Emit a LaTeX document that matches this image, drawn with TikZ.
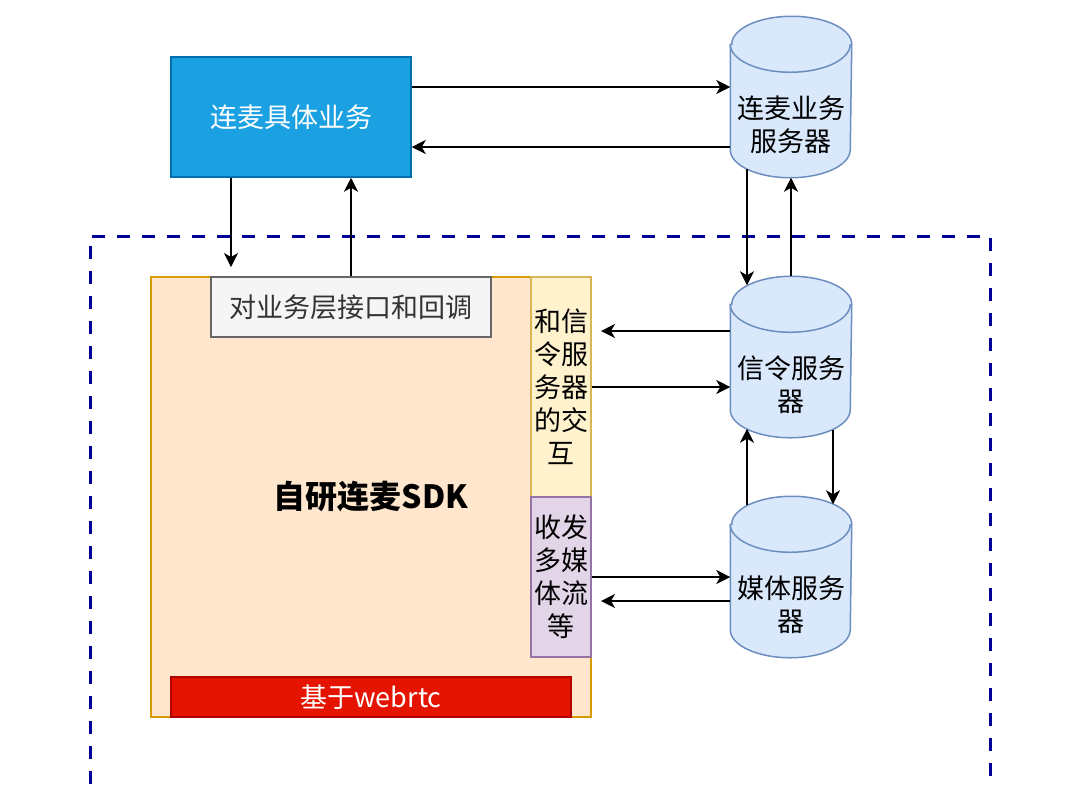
\documentclass[tikz,border=0pt]{standalone}
\usepackage{fontspec}
\setmainfont{Noto Sans CJK SC}
\usetikzlibrary{arrows.meta,positioning,calc,backgrounds}
\definecolor{bizblue}{HTML}{1BA1E2}
\definecolor{bizline}{HTML}{006EAF}
\definecolor{cylfill}{HTML}{DAE8FC}
\definecolor{cylline}{HTML}{6C8EBF}
\definecolor{sdkfill}{HTML}{FFE6CC}
\definecolor{sdkline}{HTML}{D79B00}
\definecolor{apifill}{HTML}{F5F5F5}
\definecolor{apiline}{HTML}{666666}
\definecolor{apitext}{HTML}{333333}
\definecolor{sigfill}{HTML}{FFF2CC}
\definecolor{sigline}{HTML}{D6B656}
\definecolor{mediafill}{HTML}{E1D5E7}
\definecolor{medialine}{HTML}{9673A6}
\definecolor{rtcfill}{HTML}{E51400}
\definecolor{rtcline}{HTML}{B20000}
\definecolor{edgeblue}{HTML}{000099}

\begin{document}
\begin{tikzpicture}[x=0.5pt, y=-0.5pt,
    box/.style={draw, line width=0.75pt, inner sep=0pt, align=center, font=\fontsize{13.5}{16.5}\selectfont},
    dbcyl/.style={box, draw=none, minimum width=60pt, minimum height=52pt},
    conn/.style={-{Stealth[length=7pt, width=7pt, inset=2pt]}, line width=0.7pt}
]
    \useasboundingbox (0,0) rectangle (1088,784);

    % dashed frame around the SDK side
    \draw[edgeblue, line width=1.5pt, dash pattern=on 6.5pt off 6pt] (90,784) -- (90,236) -- (990,236) -- (990,784);

    \node[box, fill=bizblue, draw=bizline, text=white, minimum width=120pt, minimum height=60pt] (biz) at (291,117) {连麦具体业务};

    \node[box, fill=sdkfill, draw=sdkline, minimum width=220pt, minimum height=220pt, font=\fontsize{16}{19}\selectfont\bfseries] (sdk) at (371,497) {自研连麦SDK};
    \node[box, fill=apifill, draw=apiline, text=apitext, minimum width=140pt, minimum height=30pt] (api) at (351,307) {对业务层接口和回调};
    \node[box, fill=sigfill, draw=sigline, minimum width=30pt, minimum height=110pt] (sig) at (561,387) {和信\\令服\\务器\\的交\\互};
    \node[box, fill=mediafill, draw=medialine, minimum width=30pt, minimum height=80pt] (media) at (561,577) {收发\\多媒\\体流\\等};
    \node[box, fill=rtcfill, draw=rtcline, text=white, minimum width=200pt, minimum height=20pt] (rtc) at (371,697) {基于webrtc};

    \node[dbcyl] (cyl1) at (791,125) {连麦业务\\服务器};
    \node[dbcyl] (cyl2) at (791,385) {信令服务\\器};
    \node[dbcyl] (cyl3) at (791,605) {媒体服务\\器};

    \begin{scope}[on background layer]
        \foreach \c in {cyl1,cyl2,cyl3}{
            \filldraw[fill=cylfill, draw=cylline, line width=0.75pt]
                ([yshift=14pt]\c.north west) -- ([yshift=14pt]\c.south west)
                arc[start angle=180, end angle=360, x radius=30pt, y radius=14pt]
                -- ([yshift=14pt]\c.north east)
                arc[start angle=0, end angle=180, x radius=30pt, y radius=14pt] -- cycle;
            \draw[cylline, line width=0.75pt] ([yshift=14pt]\c.north west)
                arc[start angle=180, end angle=360, x radius=30pt, y radius=14pt];
        }
    \end{scope}

    \coordinate (sdkin) at (231,267);
    \coordinate (sigin) at (601,331);
    \coordinate (mediain) at (601,601);

    \draw[conn] ([yshift=15pt]biz.east) -- ([yshift=15pt]biz.east -| cyl1.west);
    \draw[conn] ([yshift=-15pt]biz.east -| cyl1.west) -- ([yshift=-15pt]biz.east);
    \draw[conn] (biz.south -| sdkin) -- (sdkin);
    \draw[conn] (api.north) -- (api.north |- biz.south);

    \draw[conn] ([xshift=-22pt,yshift=4.5pt]cyl1.south) -- ([xshift=-22pt,yshift=23.5pt]cyl2.north);
    \draw[conn] ([yshift=28pt]cyl2.north) -- (cyl1.south);
    \draw[conn] (sigin -| cyl2.west) -- (sigin);
    \draw[conn] (sig.east) -- (sig.east -| cyl2.west);
    \draw[conn] ([xshift=-22pt,yshift=23.5pt]cyl3.north) -- ([xshift=-22pt,yshift=4.5pt]cyl2.south);
    \draw[conn] ([xshift=21pt,yshift=4pt]cyl2.south) -- ([xshift=21pt,yshift=24pt]cyl3.north);
    \draw[conn] (media.east) -- (media.east -| cyl3.west);
    \draw[conn] (mediain -| cyl3.west) -- (mediain);
\end{tikzpicture}
\end{document}
